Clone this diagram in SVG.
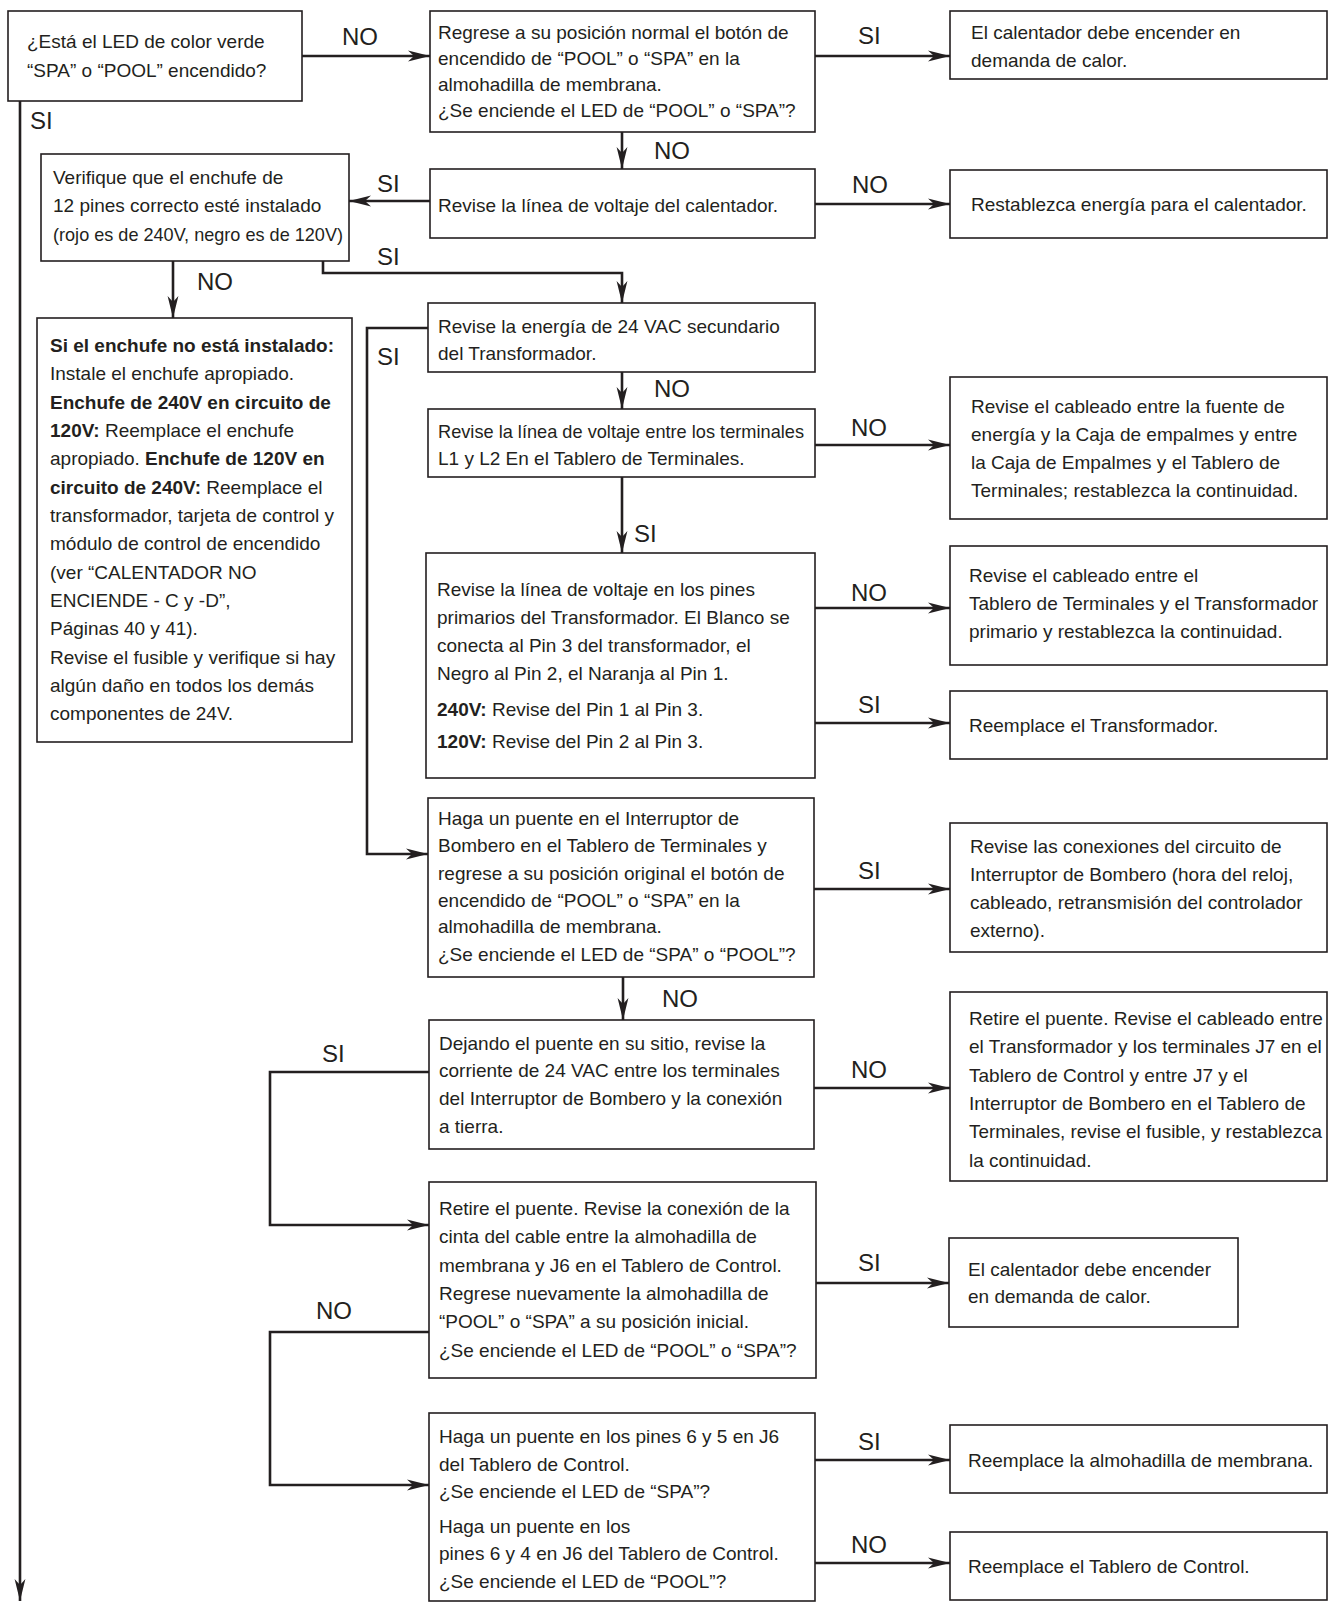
<svg xmlns="http://www.w3.org/2000/svg" width="1328" height="1603" viewBox="0 0 1328 1603">
<defs>
<style>
.box{fill:#fff;stroke:#231f20;stroke-width:1.6}
.t{font-family:"Liberation Sans",Arial,sans-serif;font-size:19px;fill:#231f20}
.b{font-weight:bold}
.lbl{font-family:"Liberation Sans",Arial,sans-serif;font-size:24px;fill:#231f20}
.c{fill:none;stroke:#231f20;stroke-width:2.6;marker-end:url(#ah)}
</style>
<marker id="ah" markerWidth="24" markerHeight="12" refX="22" refY="6" orient="auto" markerUnits="userSpaceOnUse" viewBox="0 0 24 12">
<path d="M22,6 L0,0.6 L6,6 L0,11.4 Z" fill="#231f20"/>
</marker>
</defs>
<rect width="1328" height="1603" fill="#fff"/>

<g id="connectors">
<path class="c" d="M302,56 H430"/>
<path class="c" d="M815,56 H950"/>
<path class="c" d="M622,132 V169"/>
<path class="c" d="M430,201 H349"/>
<path class="c" d="M815,204 H950"/>
<path class="c" d="M20,101 V1601"/>
<path class="c" d="M173,261 V318"/>
<path class="c" d="M323,261 V273 H622 V303"/>
<path class="c" d="M428,328 H367 V854 H428"/>
<path class="c" d="M622,372 V409"/>
<path class="c" d="M815,445 H950"/>
<path class="c" d="M622,477 V553"/>
<path class="c" d="M815,608 H950"/>
<path class="c" d="M815,723 H950"/>
<path class="c" d="M814,889 H950"/>
<path class="c" d="M623,977 V1020"/>
<path class="c" d="M814,1088 H950"/>
<path class="c" d="M429,1072 H270 V1225 H429"/>
<path class="c" d="M816,1283 H949"/>
<path class="c" d="M429,1332 H270 V1485 H429"/>
<path class="c" d="M815,1460 H950"/>
<path class="c" d="M815,1563 H950"/>
<text class="lbl" x="342" y="45">NO</text>
<text class="lbl" x="858" y="44">SI</text>
<text class="lbl" x="654" y="159">NO</text>
<text class="lbl" x="377" y="192">SI</text>
<text class="lbl" x="852" y="193">NO</text>
<text class="lbl" x="30" y="129">SI</text>
<text class="lbl" x="197" y="290">NO</text>
<text class="lbl" x="377" y="265">SI</text>
<text class="lbl" x="377" y="365">SI</text>
<text class="lbl" x="654" y="397">NO</text>
<text class="lbl" x="851" y="436">NO</text>
<text class="lbl" x="634" y="542">SI</text>
<text class="lbl" x="851" y="601">NO</text>
<text class="lbl" x="858" y="713">SI</text>
<text class="lbl" x="858" y="879">SI</text>
<text class="lbl" x="662" y="1007">NO</text>
<text class="lbl" x="851" y="1078">NO</text>
<text class="lbl" x="322" y="1062">SI</text>
<text class="lbl" x="858" y="1271">SI</text>
<text class="lbl" x="316" y="1319">NO</text>
<text class="lbl" x="858" y="1450">SI</text>
<text class="lbl" x="851" y="1553">NO</text>
</g>

<g id="n1"><rect class="box" x="8" y="11" width="294" height="90"/>
<text class="t"><tspan x="27" y="48">¿Está el LED de color verde</tspan><tspan x="27" y="77">“SPA” o “POOL” encendido?</tspan></text></g>

<g id="n2"><rect class="box" x="430" y="11" width="385" height="121"/>
<text class="t"><tspan x="438" y="39">Regrese a su posición normal el botón de</tspan><tspan x="438" y="65">encendido de “POOL” o “SPA” en la</tspan><tspan x="438" y="91">almohadilla de membrana.</tspan><tspan x="438" y="117">¿Se enciende el LED de “POOL” o “SPA”?</tspan></text></g>

<g id="n3"><rect class="box" x="950" y="11" width="377" height="68"/>
<text class="t"><tspan x="971" y="39">El calentador debe encender en</tspan><tspan x="971" y="67">demanda de calor.</tspan></text></g>

<g id="n4"><rect class="box" x="41" y="154" width="308" height="107"/>
<text class="t"><tspan x="53" y="184">Verifique que el enchufe de</tspan><tspan x="53" y="212">12 pines correcto esté instalado</tspan></text>
<text class="t" x="53" y="241" textLength="290" lengthAdjust="spacingAndGlyphs">(rojo es de 240V, negro es de 120V)</text></g>

<g id="n5"><rect class="box" x="430" y="169" width="385" height="69"/>
<text class="t" x="438" y="212">Revise la línea de voltaje del calentador.</text></g>

<g id="n6"><rect class="box" x="950" y="170" width="377" height="68"/>
<text class="t" x="971" y="211">Restablezca energía para el calentador.</text></g>

<g id="n7"><rect class="box" x="37" y="318" width="315" height="424"/>
<text class="t">
<tspan x="50" y="352" class="b">Si el enchufe no está instalado:</tspan>
<tspan x="50" y="380.3">Instale el enchufe apropiado.</tspan>
<tspan x="50" y="408.7" class="b">Enchufe de 240V en circuito de</tspan>
<tspan x="50" y="437"><tspan class="b">120V:</tspan> Reemplace el enchufe</tspan>
<tspan x="50" y="465.3">apropiado. <tspan class="b">Enchufe de 120V en</tspan></tspan>
<tspan x="50" y="493.7"><tspan class="b">circuito de 240V:</tspan> Reemplace el</tspan>
<tspan x="50" y="522">transformador, tarjeta de control y</tspan>
<tspan x="50" y="550.3">módulo de control de encendido</tspan>
<tspan x="50" y="578.7">(ver “CALENTADOR NO</tspan>
<tspan x="50" y="607">ENCIENDE - C y -D”,</tspan>
<tspan x="50" y="635.3">Páginas 40 y 41).</tspan>
<tspan x="50" y="663.7">Revise el fusible y verifique si hay</tspan>
<tspan x="50" y="692">algún daño en todos los demás</tspan>
<tspan x="50" y="720.3">componentes de 24V.</tspan>
</text></g>

<g id="n8"><rect class="box" x="428" y="303" width="387" height="69"/>
<text class="t"><tspan x="438" y="333">Revise la energía de 24 VAC secundario</tspan><tspan x="438" y="360">del Transformador.</tspan></text></g>

<g id="n9"><rect class="box" x="428" y="409" width="387" height="68"/>
<text class="t" x="438" y="438" textLength="366" lengthAdjust="spacingAndGlyphs">Revise la línea de voltaje entre los terminales</text>
<text class="t" x="438" y="465">L1 y L2 En el Tablero de Terminales.</text></g>

<g id="n10"><rect class="box" x="950" y="377" width="377" height="142"/>
<text class="t"><tspan x="971" y="413">Revise el cableado entre la fuente de</tspan><tspan x="971" y="441">energía y la Caja de empalmes y entre</tspan><tspan x="971" y="469">la Caja de Empalmes y el Tablero de</tspan><tspan x="971" y="497">Terminales; restablezca la continuidad.</tspan></text></g>

<g id="n11"><rect class="box" x="426" y="553" width="389" height="225"/>
<text class="t"><tspan x="437" y="596">Revise la línea de voltaje en los pines</tspan><tspan x="437" y="624">primarios del Transformador. El Blanco se</tspan><tspan x="437" y="652">conecta al Pin 3 del transformador, el</tspan><tspan x="437" y="680">Negro al Pin 2, el Naranja al Pin 1.</tspan><tspan x="437" y="716"><tspan class="b">240V:</tspan> Revise del Pin 1 al Pin 3.</tspan><tspan x="437" y="748"><tspan class="b">120V:</tspan> Revise del Pin 2 al Pin 3.</tspan></text></g>

<g id="n12"><rect class="box" x="950" y="546" width="377" height="119"/>
<text class="t"><tspan x="969" y="582">Revise el cableado entre el</tspan><tspan x="969" y="610">Tablero de Terminales y el Transformador</tspan><tspan x="969" y="638">primario y restablezca la continuidad.</tspan></text></g>

<g id="n13"><rect class="box" x="950" y="691" width="377" height="68"/>
<text class="t" x="969" y="732">Reemplace el Transformador.</text></g>

<g id="n14"><rect class="box" x="428" y="798" width="386" height="179"/>
<text class="t"><tspan x="438" y="825">Haga un puente en el Interruptor de</tspan><tspan x="438" y="852">Bombero en el Tablero de Terminales y</tspan><tspan x="438" y="880">regrese a su posición original el botón de</tspan><tspan x="438" y="907">encendido de “POOL” o “SPA” en la</tspan><tspan x="438" y="933">almohadilla de membrana.</tspan><tspan x="438" y="961">¿Se enciende el LED de “SPA” o “POOL”?</tspan></text></g>

<g id="n15"><rect class="box" x="950" y="823" width="377" height="129"/>
<text class="t"><tspan x="970" y="853">Revise las conexiones del circuito de</tspan><tspan x="970" y="881">Interruptor de Bombero (hora del reloj,</tspan><tspan x="970" y="909">cableado, retransmisión del controlador</tspan><tspan x="970" y="937">externo).</tspan></text></g>

<g id="n16"><rect class="box" x="429" y="1020" width="385" height="129"/>
<text class="t"><tspan x="439" y="1050">Dejando el puente en su sitio, revise la</tspan><tspan x="439" y="1077">corriente de 24 VAC entre los terminales</tspan><tspan x="439" y="1105">del Interruptor de Bombero y la conexión</tspan><tspan x="439" y="1133">a tierra.</tspan></text></g>

<g id="n17"><rect class="box" x="950" y="992" width="377" height="189"/>
<text class="t"><tspan x="969" y="1025">Retire el puente. Revise el cableado entre</tspan><tspan x="969" y="1053">el Transformador y los terminales J7 en el</tspan><tspan x="969" y="1082">Tablero de Control y entre J7 y el</tspan><tspan x="969" y="1110">Interruptor de Bombero en el Tablero de</tspan><tspan x="969" y="1167">la continuidad.</tspan></text>
<text class="t" x="969" y="1138" textLength="353" lengthAdjust="spacingAndGlyphs">Terminales, revise el fusible, y restablezca</text></g>

<g id="n18"><rect class="box" x="429" y="1182" width="387" height="196"/>
<text class="t"><tspan x="439" y="1215">Retire el puente. Revise la conexión de la</tspan><tspan x="439" y="1243">cinta del cable entre la almohadilla de</tspan><tspan x="439" y="1272">membrana y J6 en el Tablero de Control.</tspan><tspan x="439" y="1300">Regrese nuevamente la almohadilla de</tspan><tspan x="439" y="1328">“POOL” o “SPA” a su posición inicial.</tspan><tspan x="439" y="1357">¿Se enciende el LED de “POOL” o “SPA”?</tspan></text></g>

<g id="n19"><rect class="box" x="949" y="1238" width="289" height="89"/>
<text class="t"><tspan x="968" y="1276">El calentador debe encender</tspan><tspan x="968" y="1303">en demanda de calor.</tspan></text></g>

<g id="n20"><rect class="box" x="429" y="1413" width="386" height="188"/>
<text class="t"><tspan x="439" y="1443">Haga un puente en los pines 6 y 5 en J6</tspan><tspan x="439" y="1471">del Tablero de Control.</tspan><tspan x="439" y="1498">¿Se enciende el LED de “SPA”?</tspan><tspan x="439" y="1533">Haga un puente en los</tspan><tspan x="439" y="1560">pines 6 y 4 en J6 del Tablero de Control.</tspan><tspan x="439" y="1588">¿Se enciende el LED de “POOL”?</tspan></text></g>

<g id="n21"><rect class="box" x="950" y="1425" width="377" height="68"/>
<text class="t" x="968" y="1467">Reemplace la almohadilla de membrana.</text></g>

<g id="n22"><rect class="box" x="950" y="1532" width="377" height="68"/>
<text class="t" x="968" y="1573">Reemplace el Tablero de Control.</text></g>
</svg>
